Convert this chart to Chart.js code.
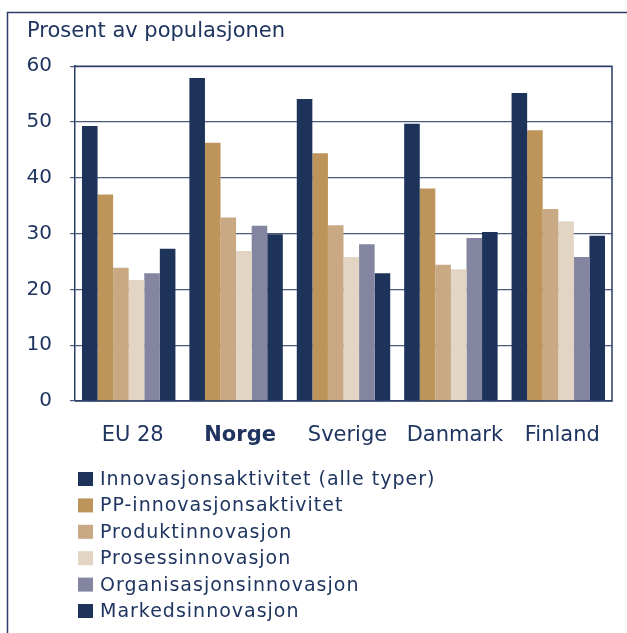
<!DOCTYPE html>
<html>
<head>
<meta charset="utf-8">
<script src="https://cdn.jsdelivr.net/npm/chart.js@4"></script>
<style>
  html, body { margin: 0; padding: 0; background: #fff; }
</style>
</head>
<body>
<canvas id="innovasjonChart" width="627" height="633"></canvas>
<script>
//colors
var navy = '#1d3359';
var gold = '#bd955b';
var tan = '#c9a984';
var beige = '#e2d5c4';
var slate = '#8385a1';
var textColor = '#1f3560';
var fontFamily = "'DejaVu Sans', Verdana, sans-serif";

//---------------data
const countries = ['EU 28', 'Norge', 'Sverige', 'Danmark', 'Finland'];
const seriesNames = [
  'Innovasjonsaktivitet (alle typer)',
  'PP-innovasjonsaktivitet',
  'Produktinnovasjon',
  'Prosessinnovasjon',
  'Organisasjonsinnovasjon',
  'Markedsinnovasjon',
];
const innovasjonsaktivitet = [49.3, 57.9, 54.1, 49.7, 55.2];
const ppInnovasjon = [37.0, 46.3, 44.4, 38.1, 48.5];
const produktinnovasjon = [23.9, 32.9, 31.5, 24.4, 34.4];
const prosessinnovasjon = [21.7, 26.9, 25.8, 23.6, 32.2];
const organisasjonsinnovasjon = [22.9, 31.4, 28.1, 29.2, 25.8];
const markedsinnovasjon = [27.3, 29.9, 22.9, 30.3, 29.6];
const yTicks = [0, 10, 20, 30, 40, 50, 60];

const seriesValues = [innovasjonsaktivitet, ppInnovasjon, produktinnovasjon,
  prosessinnovasjon, organisasjonsinnovasjon, markedsinnovasjon];
const seriesColors = [navy, gold, tan, beige, slate, navy];

const innovasjonData = {
  labels: countries,
  datasets: seriesNames.map((name, i) => ({
    label: name,
    data: seriesValues[i],
    backgroundColor: seriesColors[i],
    borderWidth: 0,
    barPercentage: 1,
    categoryPercentage: 0.87,
  }))
};

// outer frame + box round the plot
const framePlugin = {
  id: 'framePlugin',
  beforeDraw(chart) {
    const ctx = chart.ctx;
    ctx.save();
    ctx.strokeStyle = '#2a3d66';
    ctx.lineWidth = 1.5;
    ctx.beginPath();
    ctx.moveTo(7.5, chart.height);
    ctx.lineTo(7.5, 12.5);
    ctx.lineTo(chart.width, 12.5);
    ctx.stroke();
    ctx.restore();
  },
  afterDraw(chart) {
    const a = chart.chartArea;
    const ctx = chart.ctx;
    ctx.save();
    ctx.strokeStyle = '#2a3d66';
    ctx.lineWidth = 1.5;
    ctx.beginPath();
    ctx.moveTo(a.left, a.top);
    ctx.lineTo(a.right, a.top);
    ctx.lineTo(a.right, a.bottom);
    ctx.lineTo(a.left, a.bottom);
    ctx.stroke();
    ctx.restore();
  }
};

// one legend item per row, under the x labels
const rowLegend = {
  id: 'rowLegend',
  afterDraw(chart) {
    const ctx = chart.ctx;
    const top = chart.chartArea.bottom + 78;
    ctx.save();
    ctx.font = '19px ' + fontFamily;
    ctx.letterSpacing = '1px';
    ctx.textBaseline = 'middle';
    chart.data.datasets.forEach((ds, i) => {
      const y = top + i * 26.4;
      ctx.fillStyle = ds.backgroundColor;
      ctx.fillRect(78, y - 7, 15, 14);
      ctx.fillStyle = textColor;
      ctx.fillText(ds.label, 100, y + 1);
    });
    ctx.restore();
  }
};

new Chart(
  document.getElementById('innovasjonChart'), {
    type: 'bar',
    data: innovasjonData,
    plugins: [framePlugin, rowLegend],
    options: {
      responsive: false,
      devicePixelRatio: 1,
      animation: false,
      layout: {
        padding: { left: 27, top: 19, right: 15, bottom: 187 }
      },
      plugins: {
        legend: { display: false },
        tooltip: { enabled: false },
        title: {
          display: true,
          text: 'Prosent av populasjonen',
          align: 'start',
          color: textColor,
          font: { family: fontFamily, size: 21, weight: 'normal' },
          padding: { top: 0, bottom: 22 }
        }
      },
      scales: {
        x: {
          grid: { display: false, drawTicks: false },
          border: { display: false },
          afterFit: (axis) => { axis.height = 45; },
          ticks: {
            color: textColor,
            padding: 22,
            labelOffset: 4,
            font: (c) => ({
              family: fontFamily,
              size: 21,
              weight: c.tick && c.tick.label === 'Norge' ? 'bold' : 'normal'
            })
          }
        },
        y: {
          min: yTicks[0],
          max: yTicks[yTicks.length - 1],
          afterBuildTicks: (axis) => { axis.ticks = yTicks.map(v => ({ value: v })); },
          afterFit: (axis) => { axis.width = 48; },
          grid: {
            color: '#4a5b7e',
            lineWidth: 1.2,
            tickLength: 5,
            drawTicks: true
          },
          border: { color: '#2a3d66', width: 1.5 },
          ticks: {
            color: textColor,
            padding: 18,
            font: { family: fontFamily, size: 20 }
          }
        }
      }
    }
  }
);
</script>
</body>
</html>
